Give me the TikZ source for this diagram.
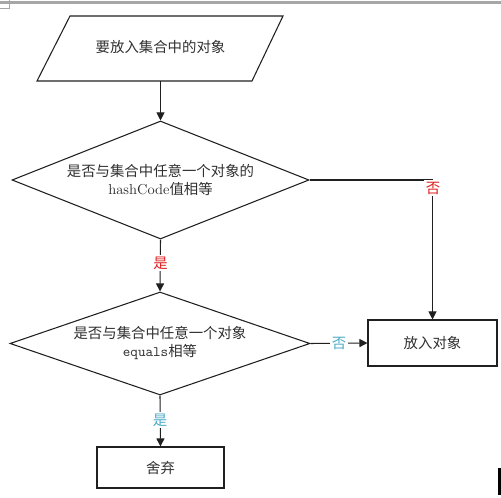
\documentclass[tikz,border=0pt]{standalone}
\usepackage{fontspec}
\newfontfamily\cjk{Noto Sans CJK SC}
\usetikzlibrary{shapes.geometric,arrows.meta}
\definecolor{lblred}{HTML}{E02020}
\definecolor{lblblue}{HTML}{4BACC6}
\definecolor{edge}{HTML}{202020}
\definecolor{txt}{HTML}{303030}
\begin{document}
\begin{tikzpicture}[x=0.75pt,y=-0.75pt,
  every node/.style={font=\cjk\fontsize{10.8pt}{13pt}\selectfont, text=txt},
  shapeline/.style={draw=edge, line width=0.8pt},
  decision/.style={diamond, shapeline, inner sep=0pt},
  procbox/.style={rectangle, shapeline, inner sep=0pt},
  conn/.style={draw=edge, line width=0.8pt, -{Triangle[length=6pt,width=6pt]}},
  plainconn/.style={draw=edge, line width=0.8pt},
  yeslbl/.style={fill=white, inner sep=1pt},
]
\useasboundingbox (0,0) rectangle (501,498);
% page artifacts
\fill[gray!70] (0,1) rectangle (501,4);
\draw[gray!70, line width=0.6pt] (9,0) -- (9,8) -- (0,8);
\fill[black] (498,468) rectangle (500.5,495);

% input parallelogram
\coordinate (p1) at (70,16);
\coordinate (p2) at (283,16);
\coordinate (p3) at (252,81);
\coordinate (p4) at (37,81);
\draw[shapeline] (p1) -- (p2) -- (p3) -- (p4) -- cycle;
\node (in) at (160.5,47) {要放入集合中的对象};
\coordinate (inb) at (160.5,81);

% decision 1
\node[decision, minimum width=222.75pt, minimum height=88.5pt] (d1) at (160.5,180) {};
\node[align=center] (d1t) at (160.5,180) {是否与集合中任意一个对象的\\{\rmfamily hashCode}值相等};

% decision 2
\node[decision, minimum width=225pt, minimum height=77.25pt] (d2) at (160,343.5) {};
\node[align=center] (d2t) at (160,343) {是否与集合中任意一个对象\\{\ttfamily equals}相等};

% boxes
\node[procbox, minimum width=96.75pt, minimum height=34.5pt] (put) at (432.5,343) {放入对象};
\node[procbox, minimum width=95.25pt, minimum height=30.75pt] (drop) at (160.5,467.5) {舍弃};

% connectors
\draw[conn] (inb) -- (d1.north);
\draw[conn] (d1.south) -- (d2.north);
\draw[conn] (d1.east) -| (put.north);
\draw[conn] (d2.east) -- (put.west);
\draw[conn] (d2.south) -- (drop.north);

% labels
\node[yeslbl, text=lblred] (l1) at (160.5,263) {是};
\node[yeslbl, text=lblred] (l2) at (433,188) {否};
\node[yeslbl, text=lblblue] (l3) at (339,343) {否};
\node[yeslbl, text=lblblue] (l4) at (160,420) {是};
\end{tikzpicture}
\end{document}
